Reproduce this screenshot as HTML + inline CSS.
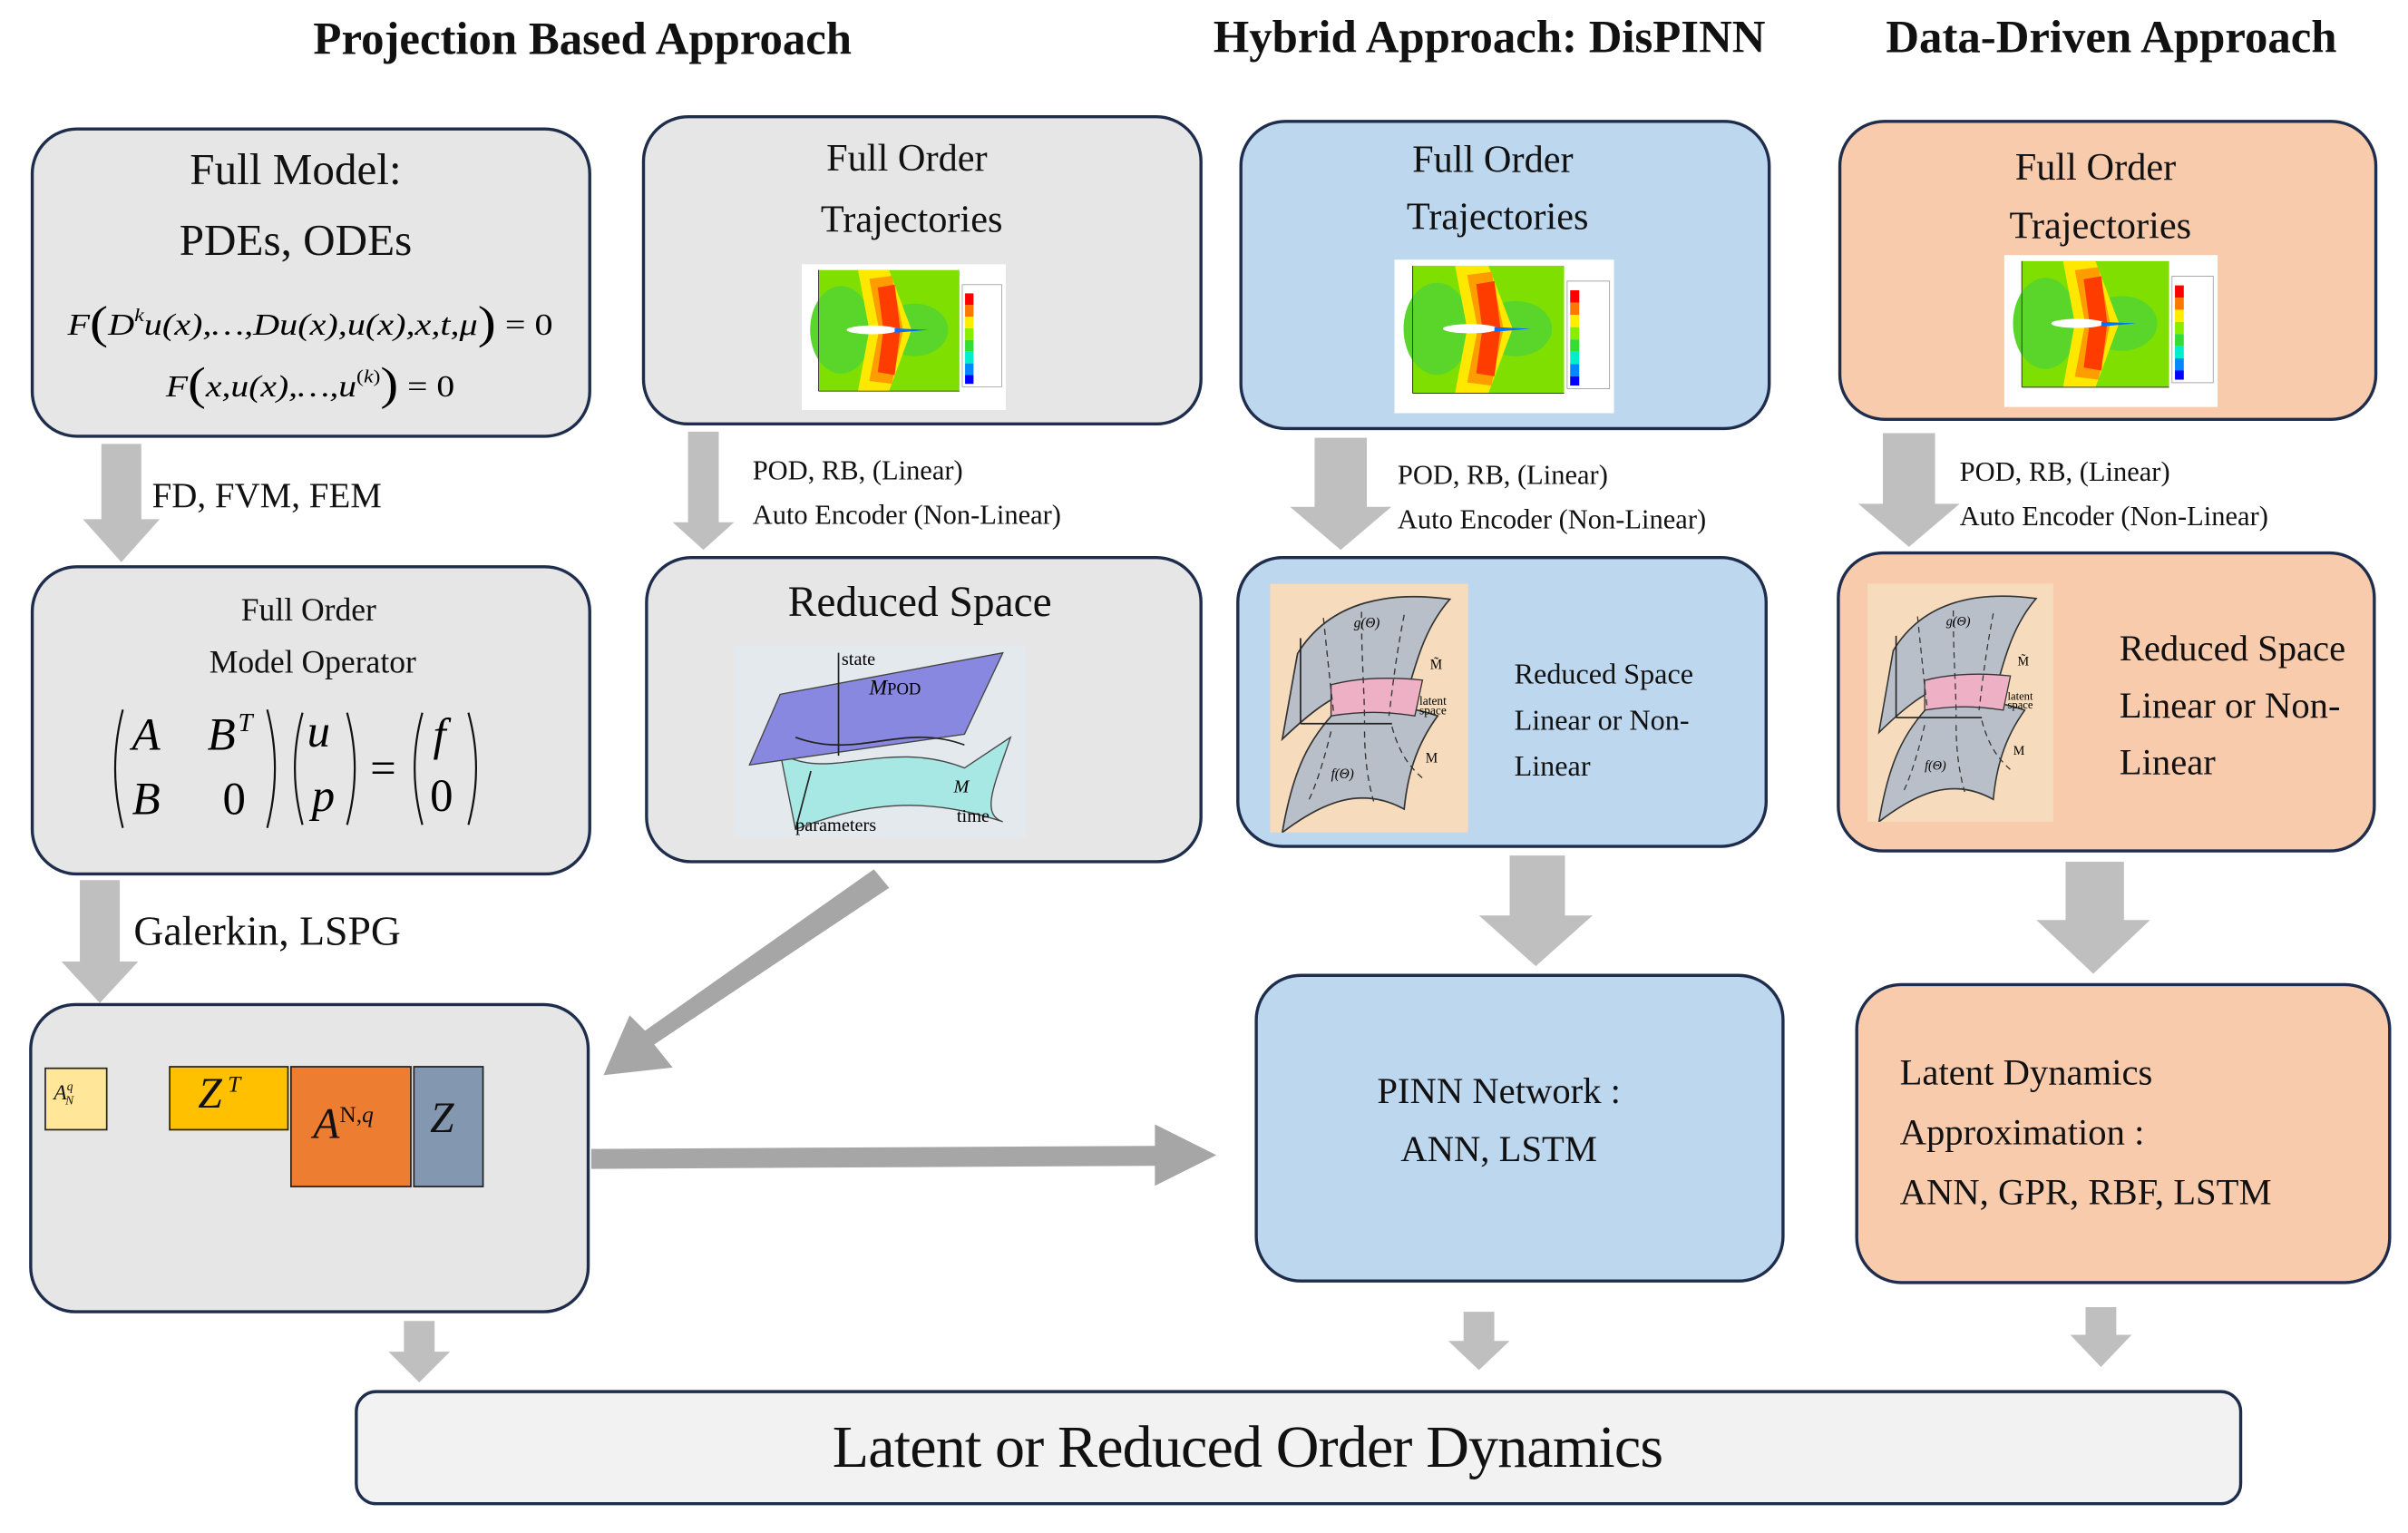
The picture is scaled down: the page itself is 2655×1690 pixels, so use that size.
<!DOCTYPE html>
<html><head><meta charset="utf-8">
<style>
html,body{margin:0;padding:0;background:#fff;}
body{width:2655px;height:1690px;overflow:hidden;}
#w{position:absolute;left:0;top:0;width:1568px;height:998px;transform:scale(1.6933);transform-origin:0 0;font-family:"Liberation Serif","Times New Roman","Tinos",serif;color:#111;}
.b{position:absolute;border:2px solid #1f2d4d;border-radius:30px;box-sizing:border-box;}
.g{background:#e6e6e6;}.bl{background:#bdd7ee;}.or{background:#f8cbad;}
.t{position:absolute;white-space:nowrap;}
.h{position:absolute;font-weight:bold;font-size:30px;white-space:nowrap;}
svg{position:absolute;}
svg text{font-family:"Liberation Serif","Times New Roman","Tinos",serif;}
.c{text-align:center;}
</style></head><body><div id="w">

<svg width="0" height="0" style="position:absolute">
<defs>
<g id="cont">
<rect x="0" y="0" width="145" height="100" fill="#fff"/>
<rect x="12" y="4" width="100" height="83" fill="#7fe000"/>
<ellipse cx="28" cy="45" rx="22" ry="30" fill="#5ad62a"/>
<ellipse cx="80" cy="45" rx="24" ry="18" fill="#5ad62a"/>
<polygon points="40,4 62,4 78,45 62,87 40,87 48,45" fill="#ffe800"/>
<polygon points="48,10 64,8 72,45 64,82 48,80 55,45" fill="#ff9c00"/>
<polygon points="54,16 66,14 70,45 66,76 54,74 58,45" fill="#ff3c00"/>
<ellipse cx="50" cy="45" rx="18" ry="3" fill="#fff"/>
<polygon points="66,44 90,45 66,47" fill="#0070ff"/>
<rect x="114" y="14" width="28" height="70" fill="#fff" stroke="#999" stroke-width=".5"/>
<rect x="116" y="20" width="6" height="8" fill="#f00"/><rect x="116" y="28" width="6" height="8" fill="#f70"/>
<rect x="116" y="36" width="6" height="8" fill="#fe0"/><rect x="116" y="44" width="6" height="8" fill="#8e0"/>
<rect x="116" y="52" width="6" height="8" fill="#3d3"/><rect x="116" y="60" width="6" height="8" fill="#0ec"/>
<rect x="116" y="68" width="6" height="8" fill="#08f"/><rect x="116" y="76" width="6" height="6" fill="#00f"/>
<line x1="12" y1="87" x2="112" y2="87" stroke="#333" stroke-width=".6"/>
<line x1="12" y1="4" x2="12" y2="87" stroke="#333" stroke-width=".6"/>
</g>
<g id="man">
<rect x="0" y="0" width="130" height="160" fill="#f6dcbc"/>
<path d="M18,45 C40,10 80,5 118,10 C100,30 95,55 90,70 C60,60 40,70 8,100 Z" fill="#b8bfc8" stroke="#333" stroke-width="1"/>
<path d="M8,160 C15,120 25,100 45,80 C70,75 95,80 110,85 C95,105 90,125 88,145 C60,130 35,140 8,160 Z" fill="#b8bfc8" stroke="#333" stroke-width="1"/>
<path d="M40,65 C60,60 80,60 100,62 L95,85 C75,82 60,82 40,85 Z" fill="#eeb0c4" stroke="#333" stroke-width=".8"/>
<line x1="20" y1="90" x2="20" y2="35" stroke="#222"/><line x1="20" y1="90" x2="80" y2="90" stroke="#222"/>
<path d="M35,22 C38,50 40,70 42,85 M60,18 C60,50 62,70 62,90 M88,20 C82,50 80,70 78,85 M40,95 C35,115 30,130 25,140 M62,95 C62,115 65,130 68,140 M80,92 C85,110 92,118 100,125" fill="none" stroke="#333" stroke-dasharray="4,3" stroke-width=".8"/>
<text x="55" y="28" font-size="9" font-style="italic">g(Θ)</text>
<text x="40" y="125" font-size="9" font-style="italic">f(Θ)</text>
<text x="105" y="55" font-size="9">M̃</text><text x="102" y="115" font-size="9">M</text>
<text x="98" y="78" font-size="8">latent</text><text x="98" y="84" font-size="8">space</text>
</g>
</defs></svg>

<div class="h" style="left:204px;top:9px">Projection Based Approach</div>
<div class="h" style="left:790px;top:8px">Hybrid Approach: DisPINN</div>
<div class="h" style="left:1228px;top:8px">Data-Driven Approach</div>

<!-- Row 1 -->
<div class="b g" style="left:20px;top:83px;width:365px;height:202px"></div>
<div class="t c" style="left:20px;top:88px;width:345px;font-size:29px;line-height:46px">Full Model:<br>PDEs, ODEs</div>
<svg style="left:0;top:180px" width="400" height="100" viewBox="0 0 400 100">
<text x="44" y="38" font-size="20" textLength="316" lengthAdjust="spacingAndGlyphs"><tspan font-style="italic">F</tspan><tspan font-size="30" dy="2">(</tspan><tspan dy="-2" font-style="italic">D</tspan><tspan font-size="12" dy="-9" font-style="italic">k</tspan><tspan dy="9" font-style="italic">u(x),…,Du(x),u(x),x,t,μ</tspan><tspan font-size="30" dy="2">)</tspan><tspan dy="-2"> = 0</tspan></text>
<text x="108" y="78" font-size="20" textLength="188" lengthAdjust="spacingAndGlyphs"><tspan font-style="italic">F</tspan><tspan font-size="30" dy="2">(</tspan><tspan dy="-2" font-style="italic">x,u(x),…,u</tspan><tspan font-size="12" dy="-9">(<tspan font-style="italic">k</tspan>)</tspan><tspan font-size="30" dy="11">)</tspan><tspan dy="-2"> = 0</tspan></text>
</svg>

<div class="b g" style="left:418px;top:75px;width:365px;height:202px"></div>
<div class="t c" style="left:418px;top:84px;width:345px;font-size:25px;line-height:40px">Full Order<br>&nbsp;Trajectories</div>
<svg style="left:522px;top:172px" width="133" height="95" viewBox="0 0 145 100" preserveAspectRatio="none"><use href="#cont"/></svg>

<div class="b bl" style="left:807px;top:78px;width:346px;height:202px"></div>
<div class="t c" style="left:807px;top:86px;width:330px;font-size:25px;line-height:37px">Full Order<br>&nbsp;Trajectories</div>
<svg style="left:908px;top:169px" width="143" height="100" viewBox="0 0 145 100" preserveAspectRatio="none"><use href="#cont"/></svg>

<div class="b or" style="left:1197px;top:78px;width:351px;height:196px"></div>
<div class="t c" style="left:1197px;top:91px;width:335px;font-size:25px;line-height:38px">Full Order<br>&nbsp;Trajectories</div>
<svg style="left:1305px;top:166px" width="139" height="99" viewBox="0 0 145 100" preserveAspectRatio="none"><use href="#cont"/></svg>

<!-- arrows -->
<svg style="left:0;top:0" width="1568" height="998">
<g fill="#bfbfbf">
<polygon points="66,289 92,289 92,338 104,338 79,366 54,338 66,338"/>
<polygon points="448,281 468,281 468,340 478,340 458,358 438,340 448,340"/>
<polygon points="856,285 890,285 890,330 906,330 873,358 840,330 856,330"/>
<polygon points="1226,282 1260,282 1260,328 1276,328 1243,356 1210,328 1226,328"/>
<polygon points="52,573 78,573 78,626 90,626 65,653 40,626 52,626"/>
<polygon points="983,557 1019,557 1019,596 1037,596 1000,629 963,596 983,596"/>
<polygon points="1345,561 1383,561 1383,599 1400,599 1363,634 1326,599 1345,599"/>
<polygon points="263,860 283,860 283,880 293,880 273,900 253,880 263,880"/>
<polygon points="953,854 973,854 973,873 983,873 963,892 943,873 953,873"/>
<polygon points="1358,851 1378,851 1378,869 1388,869 1368,890 1348,869 1358,869"/>
</g>
<g fill="#a6a6a6">
<polygon points="569,566 579,578 426,680 438,695 393,700 410,661 420,671"/>
<polygon points="385,748 752,746 752,732 792,752 752,772 752,759 385,761"/>
</g>
</svg>

<div class="t" style="left:99px;top:310px;font-size:23px">FD, FVM, FEM</div>
<div class="t" style="left:490px;top:292px;font-size:18px;line-height:29px">POD, RB, (Linear)<br>Auto Encoder (Non-Linear)</div>
<div class="t" style="left:910px;top:295px;font-size:18px;line-height:29px">POD, RB, (Linear)<br>Auto Encoder (Non-Linear)</div>
<div class="t" style="left:1276px;top:293px;font-size:18px;line-height:29px">POD, RB, (Linear)<br>Auto Encoder (Non-Linear)</div>
<div class="t" style="left:87px;top:591px;font-size:27px">Galerkin, LSPG</div>

<!-- Row 2 -->
<div class="b g" style="left:20px;top:368px;width:365px;height:202px"></div>
<div class="t c" style="left:20px;top:380px;width:362px;font-size:21px;line-height:34px">Full Order<br>&nbsp;Model Operator</div>
<svg style="left:0;top:0" width="400" height="600" viewBox="0 0 400 600">
<g fill="none" stroke="#111" stroke-width="1.3">
<path d="M80,462 Q70,500 80,539"/><path d="M174,462 Q184,500 174,539"/>
<path d="M197,464 Q187,500 197,537"/><path d="M226,464 Q236,500 226,537"/>
<path d="M275,464 Q265,500 275,537"/><path d="M305,464 Q315,500 305,537"/>
</g>
<g font-size="30" font-style="italic">
<text x="86" y="488">A</text><text x="135" y="488">B</text><text x="155" y="476" font-size="17">T</text>
<text x="86" y="530">B</text><text x="145" y="530" font-style="normal">0</text>
<text x="200" y="486">u</text><text x="203" y="528">p</text>
<text x="241" y="510" font-style="normal">=</text>
<text x="282" y="488">f</text><text x="280" y="528" font-style="normal">0</text>
</g>
</svg>

<div class="b g" style="left:420px;top:362px;width:363px;height:200px"></div>
<div class="t c" style="left:420px;top:377px;width:358px;font-size:28px">Reduced Space</div>
<svg style="left:478px;top:420px" width="190" height="125" viewBox="0 0 190 125">
<rect width="190" height="125" fill="#e4e9ee"/>
<path d="M30,70 C60,90 100,60 150,80 L180,60 C170,90 160,110 175,115 C130,100 90,100 40,120 Z" fill="#a8e8e4" stroke="#444" stroke-width=".8"/>
<polygon points="30,32 175,5 150,58 10,78" fill="#8888e0" stroke="#444" stroke-width=".8"/>
<line x1="68" y1="5" x2="68" y2="72" stroke="#222"/>
<path d="M40,60 C80,75 110,50 150,65" fill="none" stroke="#222"/>
<line x1="40" y1="120" x2="50" y2="82" stroke="#222"/>
<text x="70" y="13" font-size="12">state</text>
<text x="88" y="32" font-size="14" font-style="italic">M<tspan font-size="11" font-style="normal">POD</tspan></text>
<text x="143" y="96" font-size="12" font-style="italic">M</text>
<text x="40" y="121" font-size="12">parameters</text>
<text x="145" y="115" font-size="12">time</text>
</svg>

<div class="b bl" style="left:805px;top:362px;width:346px;height:190px"></div>
<svg style="left:827px;top:380px" width="129" height="162" viewBox="0 0 130 160" preserveAspectRatio="none"><use href="#man"/></svg>
<div class="t" style="left:986px;top:425px;font-size:19px;line-height:30px">Reduced Space<br>Linear or Non-<br>Linear</div>

<div class="b or" style="left:1196px;top:359px;width:351px;height:196px"></div>
<svg style="left:1216px;top:380px" width="121" height="155" viewBox="0 0 130 160" preserveAspectRatio="none"><use href="#man"/></svg>
<div class="t" style="left:1380px;top:405px;font-size:24px;line-height:37px">Reduced Space<br>Linear or Non-<br>Linear</div>

<!-- Row 3 -->
<div class="b g" style="left:19px;top:653px;width:365px;height:202px"></div>
<div class="t" style="left:29px;top:695px;width:41px;height:41px;background:#ffe699;border:1.5px solid #222;font-size:14px;font-style:italic;box-sizing:border-box;padding:7px 0 0 5px">A<sup style="font-size:8px">q</sup><sub style="font-size:8px;margin-left:-5px">N</sub></div>
<div class="t" style="left:110px;top:694px;width:78px;height:42px;background:#ffc000;border:1.5px solid #222;box-sizing:border-box;font-size:28px;font-style:italic;padding:2px 0 0 18px">Z<sup style="font-size:15px"> T</sup></div>
<div class="t" style="left:189px;top:694px;width:79px;height:79px;background:#ed7d31;border:1.5px solid #222;box-sizing:border-box;font-size:28px;font-style:italic;padding:22px 0 0 14px">A<sup style="font-size:15px;font-style:normal">N,<i>q</i></sup></div>
<div class="t" style="left:269px;top:694px;width:46px;height:79px;background:#8497b0;border:1.5px solid #222;box-sizing:border-box;font-size:28px;font-style:italic;padding:18px 0 0 10px">Z</div>

<div class="b bl" style="left:817px;top:634px;width:345px;height:201px"></div>
<div class="t c" style="left:817px;top:692px;width:318px;font-size:24px;line-height:38px">PINN Network :<br>ANN, LSTM</div>

<div class="b or" style="left:1208px;top:640px;width:349px;height:196px"></div>
<div class="t" style="left:1237px;top:680px;font-size:24px;line-height:39px">Latent Dynamics<br>Approximation :<br>ANN, GPR, RBF, LSTM</div>

<div class="b" style="left:231px;top:905px;width:1229px;height:75px;background:#f2f2f2;border-radius:14px"></div>
<div class="t" style="left:542px;top:920px;font-size:39px;letter-spacing:-0.5px">Latent or Reduced Order Dynamics</div>

</div></body></html>
